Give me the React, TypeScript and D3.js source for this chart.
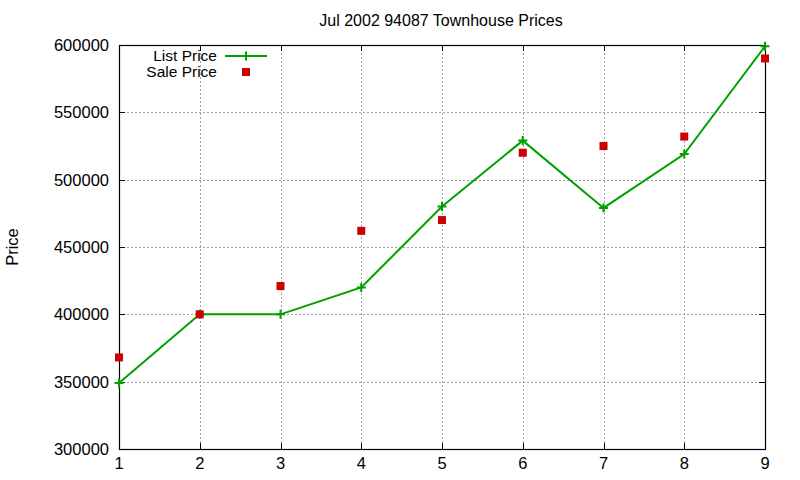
import React, { useEffect, useRef } from 'react';
import * as d3 from 'd3';

const months = [1, 2, 3, 4, 5, 6, 7, 8, 9];
const listPrice = [349000, 400000, 400000, 420000, 480000, 529000, 479000, 519000, 599000];
const salePrice = [368000, 400000, 421000, 462000, 470000, 520000, 525000, 532000, 590000];
const yTicks = [300000, 350000, 400000, 450000, 500000, 550000, 600000];

const App: React.FC = () => {
    const ref = useRef<SVGSVGElement>(null);

    useEffect(() => {
        const svg = d3.select(ref.current);
        svg.selectAll("*").remove();

        const left = 119, right = 765, top = 45, bottom = 449;
        const font = "Liberation Sans, Arial, sans-serif";
        const fs = 16.5;
        const green = "#00a000";
        const red = "#cc0000";

        const x = d3.scaleLinear().domain([1, 9]).range([left, right]);
        const y = d3.scaleLinear().domain([300000, 600000]).range([bottom, top]);

        svg.append("rect").attr("width", 800).attr("height", 480).attr("fill", "#fff");

        // grid
        const grid = svg.append("g")
            .attr("stroke", "#a0a0a0")
            .attr("stroke-width", 1)
            .attr("stroke-dasharray", "2,2");
        grid.selectAll(".gx")
            .data(months.slice(1, -1))
            .enter().append("line")
            .attr("x1", d => Math.round(x(d)) + 0.5).attr("x2", d => Math.round(x(d)) + 0.5)
            .attr("y1", top).attr("y2", bottom);
        grid.selectAll(".gy")
            .data(yTicks.slice(1, -1))
            .enter().append("line")
            .attr("x1", left).attr("x2", right)
            .attr("y1", d => Math.round(y(d)) + 0.5).attr("y2", d => Math.round(y(d)) + 0.5);

        // ticks (inward, mirrored)
        const ticks = svg.append("g").attr("stroke", "#000").attr("stroke-width", 1);
        yTicks.forEach(t => {
            const yy = Math.round(y(t)) + 0.5;
            ticks.append("line").attr("x1", left).attr("x2", left + 6).attr("y1", yy).attr("y2", yy);
            ticks.append("line").attr("x1", right - 6).attr("x2", right).attr("y1", yy).attr("y2", yy);
        });
        months.forEach(m => {
            const xx = Math.round(x(m)) + 0.5;
            ticks.append("line").attr("x1", xx).attr("x2", xx).attr("y1", bottom).attr("y2", bottom - 6);
            ticks.append("line").attr("x1", xx).attr("x2", xx).attr("y1", top).attr("y2", top + 6);
        });

        // border
        svg.append("rect")
            .attr("x", left + 0.5).attr("y", top + 0.5)
            .attr("width", right - left).attr("height", bottom - top)
            .attr("fill", "none").attr("stroke", "#000").attr("stroke-width", 1.2);

        // tick labels
        svg.append("g").selectAll("text")
            .data(yTicks)
            .enter().append("text")
            .attr("x", left - 10).attr("y", d => y(d) + 6)
            .attr("text-anchor", "end")
            .attr("font-family", font).attr("font-size", fs)
            .text(d => d);
        svg.append("g").selectAll("text")
            .data(months)
            .enter().append("text")
            .attr("x", d => x(d)).attr("y", bottom + 20)
            .attr("text-anchor", "middle")
            .attr("font-family", font).attr("font-size", fs)
            .text(d => d);

        // title and axis label
        svg.append("text")
            .attr("x", 441).attr("y", 26)
            .attr("text-anchor", "middle")
            .attr("font-family", font).attr("font-size", 16)
            .text("Jul 2002 94087 Townhouse Prices");
        svg.append("text")
            .attr("transform", "translate(18,247) rotate(-90)")
            .attr("text-anchor", "middle")
            .attr("font-family", font).attr("font-size", fs)
            .text("Price");

        // list price line
        const line = d3.line<number>()
            .x((_, i) => x(months[i]))
            .y(d => y(d));
        svg.append("path")
            .datum(listPrice)
            .attr("d", line)
            .attr("fill", "none")
            .attr("stroke", green)
            .attr("stroke-width", 2);

        const plus = (g: d3.Selection<SVGGElement, unknown, null, undefined>, cx: number, cy: number) => {
            g.append("path")
                .attr("d", `M${cx - 4.5},${cy}H${cx + 4.5}M${cx},${cy - 4.5}V${cy + 4.5}`)
                .attr("stroke", green).attr("stroke-width", 2).attr("fill", "none");
        };
        const marks = svg.append("g");
        listPrice.forEach((v, i) => plus(marks, x(months[i]), y(v)));

        // sale price squares
        svg.append("g").selectAll("rect")
            .data(salePrice)
            .enter().append("rect")
            .attr("x", (_, i) => x(months[i]) - 4)
            .attr("y", d => y(d) - 4)
            .attr("width", 8).attr("height", 8)
            .attr("fill", red);

        // legend
        const lfs = 15.5;
        const legend = svg.append("g");
        legend.append("text")
            .attr("x", 217).attr("y", 60.5)
            .attr("text-anchor", "end")
            .attr("font-family", font).attr("font-size", lfs)
            .text("List Price");
        legend.append("line")
            .attr("x1", 225).attr("x2", 267).attr("y1", 56).attr("y2", 56)
            .attr("stroke", green).attr("stroke-width", 2);
        plus(legend, 246, 56);
        legend.append("text")
            .attr("x", 217).attr("y", 77)
            .attr("text-anchor", "end")
            .attr("font-family", font).attr("font-size", lfs)
            .text("Sale Price");
        legend.append("rect")
            .attr("x", 242).attr("y", 68).attr("width", 8).attr("height", 8)
            .attr("fill", red);
    }, []);

    return (
        <svg ref={ref} width={800} height={480}
            style={{ position: 'absolute', left: 0, top: 0 }}></svg>
    );
};

export default App;
